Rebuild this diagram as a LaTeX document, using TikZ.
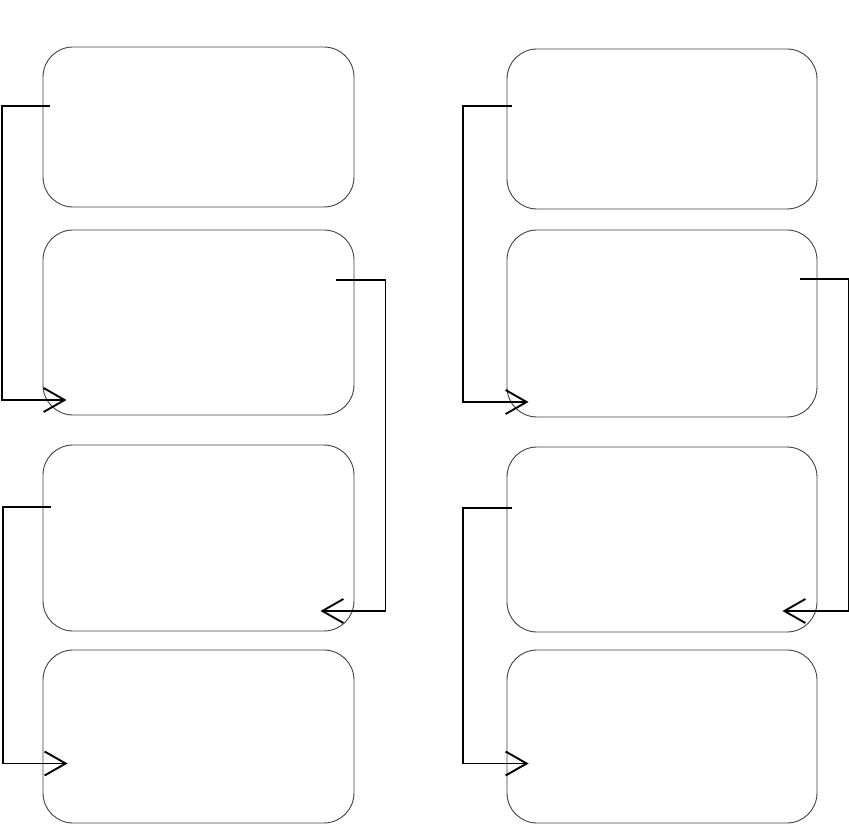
\documentclass[tikz,border=0pt]{standalone}
\usepackage{tikz}
\usetikzlibrary{arrows.meta}

\begin{document}
\begin{tikzpicture}[x=1pt, y=-1pt,
    box/.style={draw=black!75, line width=0.9pt, rounded corners=30pt, inner sep=0pt, minimum width=311pt},
    link/.style={line width=1.9pt, -{Straight Barb[length=21pt,width=24pt]}}]
    \useasboundingbox (0,0) rectangle (849,826);

    % Left column
    \node[box, minimum height=160pt] (L1) at (198.5,127) {};
    \node[box, minimum height=185pt] (L2) at (198.5,322.5) {};
    \node[box, minimum height=186pt] (L3) at (198.5,538) {};
    \node[box, minimum height=173pt] (L4) at (198.5,736.5) {};

    \draw[link] ([shift={(7,-21)}]L1.west) -- ++(-48,0) |- ([shift={(24,77.5)}]L2.west);
    \draw[link] ([shift={(-18,-42.5)}]L2.east) -- ++(49,0) |- ([shift={(-34,73)}]L3.east);
    \draw[link] ([shift={(8,-31)}]L3.west) -- ++(-48,0) |- ([shift={(25,27)}]L4.west);

    % Right column
    \node[box, minimum width=310pt, minimum height=160pt] (R1) at (662,129) {};
    \node[box, minimum width=310pt, minimum height=187pt] (R2) at (662,323.5) {};
    \node[box, minimum width=310pt, minimum height=185pt] (R3) at (662,539.5) {};
    \node[box, minimum width=310pt, minimum height=173pt] (R4) at (662,736.5) {};

    \draw[link] ([shift={(5,-23)}]R1.west) -- ++(-49,0) |- ([shift={(22,78.5)}]R2.west);
    \draw[link] ([shift={(-17,-44.5)}]R2.east) -- ++(48,0) |- ([shift={(-35,71.5)}]R3.east);
    \draw[link] ([shift={(5,-31.5)}]R3.west) -- ++(-49,0) |- ([shift={(22,27)}]R4.west);
\end{tikzpicture}
\end{document}
